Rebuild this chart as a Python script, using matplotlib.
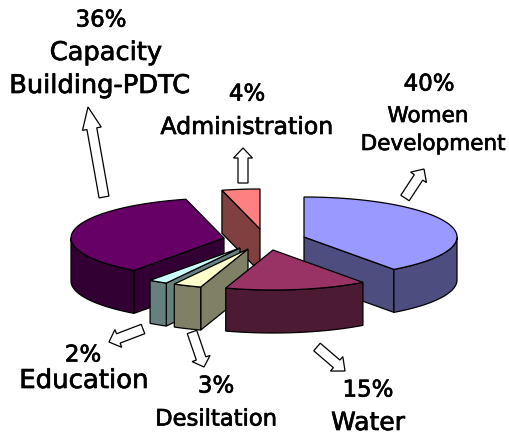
import numpy as np
from matplotlib import pyplot as plt
from matplotlib.patches import Polygon
from matplotlib import patheffects

# clockwise from 12 o'clock
names = ["Women\nDevelopment", "Water", "Desiltation", "Education",
         "Capacity\nBuilding-PDTC", "Administration"]
shares = [40, 15, 3, 2, 36, 4]
top_colors = ["#9999FF", "#993366", "#FFFFCC", "#CCFFFF", "#660066", "#FF8080"]
side_colors = ["#4D4D80", "#4D1A33", "#808066", "#668080", "#330033", "#804040"]

# where each exploded slice has its tip, in pixels
apexes = [(304, 237), (273, 250), (248, 249), (240, 248), (224, 238), (260, 229)]
# tail, tip, head length
arrows = [((405, 198), (424, 169), 10), ((317, 347), (345, 371), 11), ((192, 332), (204, 367), 9),
          ((143, 329), (109, 342), 10), ((104, 197), (88, 107), 22), ((243, 183), (243, 148), 10)]
RX, RY, DEPTH = 153, 40, 43

FONT = "DejaVu Sans"


def rim(apex, a, b):
    t = np.radians(np.linspace(a, b, max(int(b - a), 1) + 1))
    return np.column_stack([apex[0] + RX * np.sin(t), apex[1] - RY * np.cos(t)])


def face(ax, pts, color, z):
    pts = np.asarray(pts)
    low = pts[::-1] + [0, DEPTH]
    ax.add_patch(Polygon(np.vstack([pts, low]), fc=color, ec="black", lw=0.9, zorder=z))


def block_arrow(ax, tail, tip, head_len, shaft=10, head=19):
    tail, tip = np.array(tail, float), np.array(tip, float)
    d = (tip - tail) / np.hypot(*(tip - tail))
    n = np.array([-d[1], d[0]])
    base = tip - d * head_len
    pts = [tail + n * shaft / 2, base + n * shaft / 2, base + n * head / 2, tip,
           base - n * head / 2, base - n * shaft / 2, tail - n * shaft / 2]
    ax.add_patch(Polygon(pts, fc="white", ec="black", lw=0.9, zorder=20))


fig = plt.figure(figsize=(5.10, 4.37), dpi=100)
ax = fig.add_axes([0, 0, 1, 1])
ax.set_xlim(0, 510)
ax.set_ylim(437, 0)
ax.axis("off")

ends = np.cumsum(shares) * 3.6
starts = ends - np.array(shares) * 3.6

# back to front
for z, i in enumerate([5, 4, 0, 3, 2, 1]):
    a, b, apex = starts[i], ends[i], apexes[i]
    # cut faces, only those turned towards the viewer
    if np.cos(np.radians(a - 90)) < -1e-6:
        face(ax, [apex, rim(apex, a, a)[0]], side_colors[i], z * 3)
    if np.cos(np.radians(b + 90)) < -1e-6:
        face(ax, [apex, rim(apex, b, b)[0]], side_colors[i], z * 3)
    # outer wall
    lo, hi = max(a, 90), min(b, 270)
    if lo < hi:
        face(ax, rim(apex, lo, hi), side_colors[i], z * 3 + 1)
    ax.add_patch(Polygon(np.vstack([[apex], rim(apex, a, b)]), fc=top_colors[i],
                         ec="black", lw=0.9, zorder=z * 3 + 2))

for tail, tip, head_len in arrows:
    block_arrow(ax, tail, tip, head_len)

# percent position, name line positions, name size
label_pos = [
    ((429, 84), [(428, 116), (433, 144)], 15.5),
    ((368, 390), [(368, 423)], 18),
    ((216, 386), [(216, 419)], 16.3),
    ((83, 355), [(84, 381)], 18.7),
    ((101, 20), [(106, 53), (100, 86)], 18.5),
    ((247, 94), [(247, 127)], 17),
]
stroke = [patheffects.withStroke(linewidth=0.5, foreground="black")]
for share, name, (pct_xy, name_xy, size) in zip(shares, names, label_pos):
    ax.text(*pct_xy, f"{share}%", ha="center", va="center", fontsize=16.5,
            family=FONT, path_effects=stroke)
    for line, xy in zip(name.split("\n"), name_xy):
        ax.text(*xy, line, ha="center", va="center", fontsize=size, family=FONT,
                path_effects=stroke)

fig.savefig("out.png", dpi=100)
